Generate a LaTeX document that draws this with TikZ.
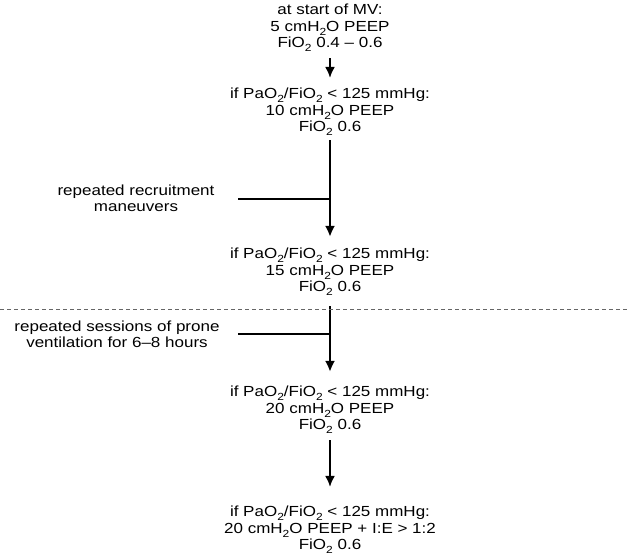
\documentclass[tikz,border=0pt]{standalone}
\usepackage{fontspec}
\usepackage{graphicx}
\setmainfont{Liberation Sans}
\usetikzlibrary{arrows.meta, calc, positioning}
\newcommand{\subtwo}{\raisebox{-0.5ex}{\fontsize{12}{12}\selectfont 2}}
\newcommand{\squash}[1]{\scalebox{1}[0.86]{\begin{tabular}{@{}c@{}}#1\end{tabular}}}

\begin{document}
\begin{tikzpicture}[x=1pt, y=-1pt, >={Latex[length=11pt,width=10pt]},
	stagetxt/.style={inner sep=0pt, font=\fontsize{17}{19.3}\selectfont},
	flow/.style={->, line width=1.9pt},
	bigflow/.style={->, line width=2.4pt},
	side/.style={line width=1.9pt}]
	
	\useasboundingbox (0,0) rectangle (630,555);
	
	% --- PEEP / FiO2 stages ---
	\node[stagetxt] (s1) at (330,28) {\squash{at start of MV:\\5 cmH\subtwo O PEEP\\FiO\subtwo{} 0.4 – 0.6}};
	\node[stagetxt] (s2) at (330,112) {\squash{if PaO\subtwo/FiO\subtwo{} < 125 mmHg:\\10 cmH\subtwo O PEEP\\FiO\subtwo{} 0.6}};
	\node[stagetxt] (s3) at (330,272) {\squash{if PaO\subtwo/FiO\subtwo{} < 125 mmHg:\\15 cmH\subtwo O PEEP\\FiO\subtwo{} 0.6}};
	\node[stagetxt] (s4) at (330,410) {\squash{if PaO\subtwo/FiO\subtwo{} < 125 mmHg:\\20 cmH\subtwo O PEEP\\FiO\subtwo{} 0.6}};
	\node[stagetxt] (s5) at (330,530) {\squash{if PaO\subtwo/FiO\subtwo{} < 125 mmHg:\\20 cmH\subtwo O PEEP + I:E > 1:2\\FiO\subtwo{} 0.6}};
	
	% escalation arrows
	\draw[flow, shorten <=5pt, shorten >=9pt] (s1.south) -- (s2.north);
	\draw[bigflow, shorten <=3pt, shorten >=10pt] (s2.south) -- (s3.north);
	\draw[bigflow, shorten <=9pt, shorten >=13pt] (s3.south) -- (s4.north);
	\draw[flow, shorten <=5pt, shorten >=18pt] (s4.south) -- (s5.north);
	
	% --- side measures ---
	\node[stagetxt] (recruit) at (136,200) {\squash{repeated recruitment\\maneuvers}};
	\coordinate (recruitIn) at (238,199);
	\draw[side] (recruitIn) -- (recruitIn -| s2.south);
	
	\node[stagetxt] (prone) at (117,336) {\squash{repeated sessions of prone\\ventilation for 6–8 hours}};
	\coordinate (proneIn) at (238,334);
	\draw[side] (proneIn) -- (proneIn -| s3.south);
	
	% separator
	\draw[black!60, line width=1pt, dash pattern=on 4pt off 3pt] (0,309) -- (630,309);
	
\end{tikzpicture}
\end{document}
